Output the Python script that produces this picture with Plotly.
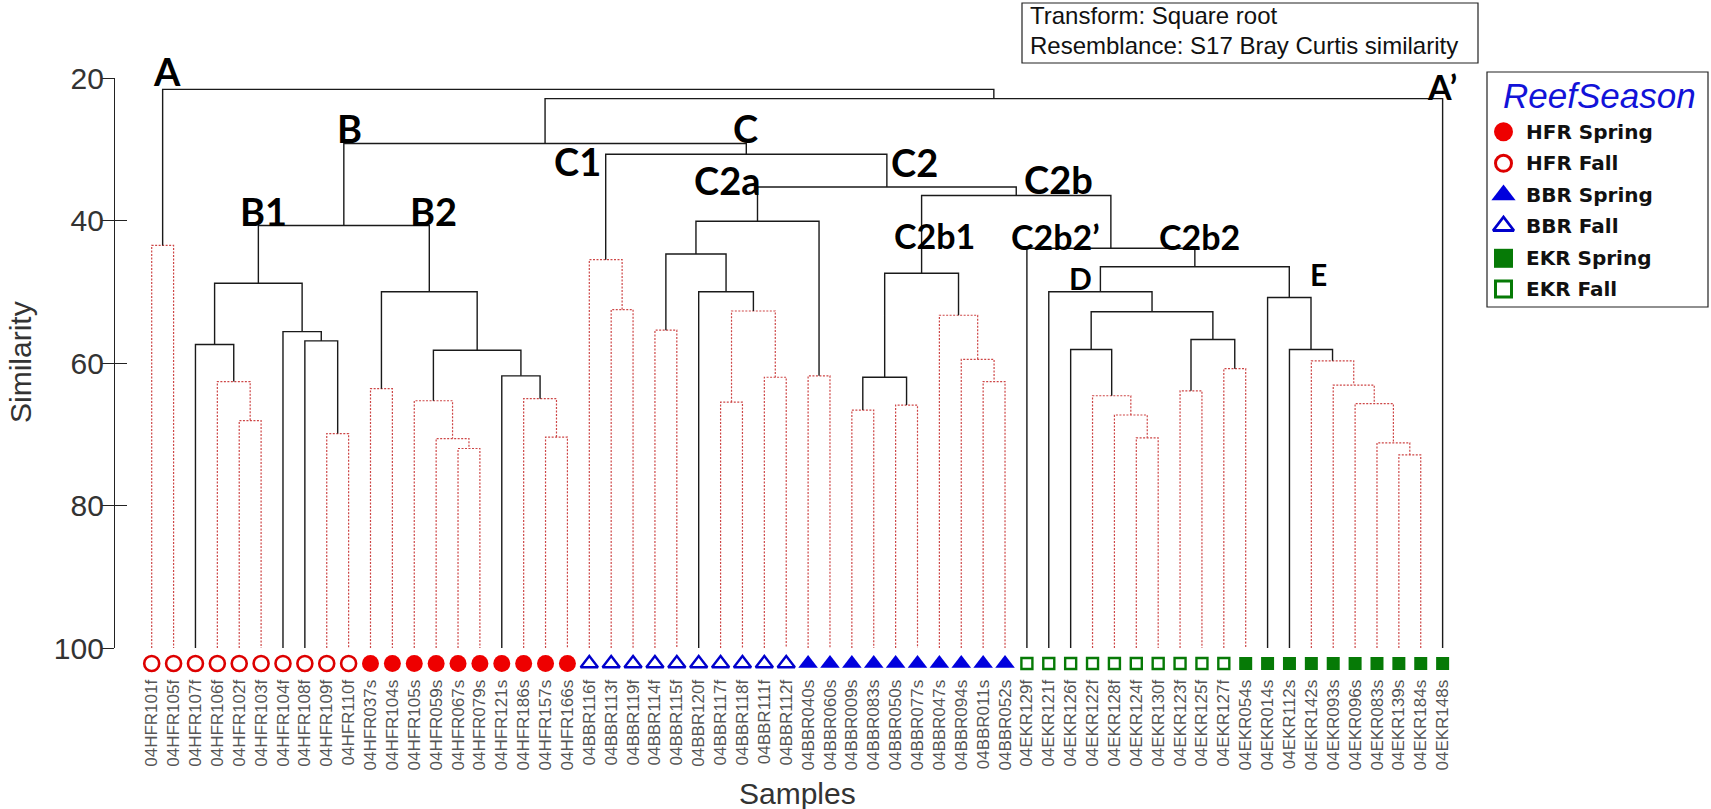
import plotly.graph_objects as go

# ---------------------------------------------------------------- data
samples = [
    "04HFR101f", "04HFR105f", "04HFR107f", "04HFR106f", "04HFR102f",
    "04HFR103f", "04HFR104f", "04HFR108f", "04HFR109f", "04HFR110f",
    "04HFR037s", "04HFR104s", "04HFR105s", "04HFR059s", "04HFR067s",
    "04HFR079s", "04HFR121s", "04HFR186s", "04HFR157s", "04HFR166s",
    "04BBR116f", "04BBR113f", "04BBR119f", "04BBR114f", "04BBR115f",
    "04BBR120f", "04BBR117f", "04BBR118f", "04BBR111f", "04BBR112f",
    "04BBR040s", "04BBR060s", "04BBR009s", "04BBR083s", "04BBR050s",
    "04BBR077s", "04BBR047s", "04BBR094s", "04BBR011s", "04BBR052s",
    "04EKR129f", "04EKR121f", "04EKR126f", "04EKR122f", "04EKR128f",
    "04EKR124f", "04EKR130f", "04EKR123f", "04EKR125f", "04EKR127f",
    "04EKR054s", "04EKR014s", "04EKR112s", "04EKR142s", "04EKR093s",
    "04EKR096s", "04EKR083s", "04EKR139s", "04EKR184s", "04EKR148s",
]

# Agglomeration steps (linkage style: ids >= 60 are earlier merges, 60 + step)
merge_left = [0, 4, 3, 2, 8, 7, 6, 63, 10, 14, 13, 12, 18, 17, 16, 71, 68, 67,
              21, 20, 23, 26, 28, 81, 25, 80, 30, 85, 32, 34, 88, 38, 37, 36,
              90, 45, 44, 43, 42, 47, 49, 99, 98, 41, 57, 56, 55, 54, 53, 52,
              51, 103, 40, 94, 87, 79, 77, 116, 60]
merge_right = [1, 5, 61, 62, 9, 64, 65, 66, 11, 15, 69, 70, 19, 72, 73, 74, 75,
               76, 22, 78, 24, 27, 29, 82, 83, 84, 31, 86, 33, 35, 89, 39, 91,
               92, 93, 46, 95, 96, 97, 48, 50, 100, 101, 102, 58, 104, 105, 106,
               107, 108, 109, 110, 111, 112, 113, 114, 115, 59, 117]
merge_similarity = [43.5, 68.1, 62.6, 57.4, 69.9, 56.9, 55.6, 48.8, 63.6, 72.0,
                    70.6, 65.3, 70.4, 65.0, 61.8, 58.2, 50.0, 40.7, 52.5, 45.5,
                    55.4, 65.5, 62.0, 52.7, 50.0, 44.7, 61.8, 40.1, 66.6, 65.9,
                    62.0, 62.6, 59.5, 53.3, 47.4, 70.5, 67.3, 64.6, 58.1, 63.9,
                    60.8, 56.7, 52.8, 50.0, 72.9, 71.2, 65.7, 63.1, 59.7, 58.1,
                    50.8, 46.5, 43.9, 36.5, 35.3, 30.7, 29.2, 22.9, 21.6]
# SIMPROF outcome: False = no significant internal structure (red dotted)
merge_significant = [False, False, False, True, False, True, True, True, False,
                     False, False, False, False, False, True, True, True, True,
                     False, False, False, False, False, False, True, True, False,
                     True, False, False, True, False, False, False, True, False,
                     False, False, True, False, False, True, True, True, False,
                     False, False, False, False, True, True, True, True, True,
                     True, True, True, True, True]

group_names = ["HFR Spring", "HFR Fall", "BBR Spring", "BBR Fall",
               "EKR Spring", "EKR Fall"]

cluster_labels = ["A", "A\u2019", "B", "B1", "B2", "C", "C1", "C2", "C2a",
                  "C2b", "C2b1", "C2b2\u2019", "C2b2", "D", "E"]
cluster_nodes = [60, 59, 77, 67, 76, 115, 79, 114, 87, 113, 94, 40, 111, 103, 110]

y_ticks = [20, 40, 60, 80, 100]

# ---------------------------------------------------------------- styling
W, H = 1711, 809
PLOT_L, PLOT_R, PLOT_T, PLOT_B = 115, 1470, 78, 648
LEAF_STEP = 21.88          # px between neighbouring leaves
FIRST_LEAF_PX = 151.7
SYMBOL_TOP, SYMBOL_BOT = 652, 675   # strip holding the leaf symbols

x_lo = -(FIRST_LEAF_PX - PLOT_L) / LEAF_STEP
x_hi = x_lo + (PLOT_R - PLOT_L) / LEAF_STEP

group_style = {
    "HFR Spring": dict(symbol="circle", color="#ee0000", size=17, lw=0),
    "HFR Fall": dict(symbol="circle-open", color="#dd0000", size=15, lw=2.6),
    "BBR Spring": dict(symbol="triangle-up", color="#0000dd", size=17, lw=0),
    "BBR Fall": dict(symbol="triangle-up-open", color="#0000cc", size=15, lw=2.4),
    "EKR Spring": dict(symbol="square", color="#067a06", size=13, lw=0),
    "EKR Fall": dict(symbol="square-open", color="#067a06", size=11, lw=2.4),
}

# label layout: pixel offsets from the top of the node's stem, and font size
label_dx = [4, -1, 6, 5, 4, -1, -28, 28, -31, 42, 13, 29, 5, -20, 29]
label_dy = [-18, -12, -16, -14, -14, -16, 7, 8, -7, -8, 40, -12, -12, 11, 7]
label_size = [38, 34, 38, 38, 38, 38, 38, 38, 38, 38, 34, 34, 34, 30, 30]

LINE_BLACK = "#1a1a1a"
LINE_RED = "rgb(205,70,70)"
TEXT_GREY = "#333333"


def px_x(p):
    return p / W


def px_y(p):
    return 1 - p / H


def group_of(name):
    season = "Spring" if name.endswith("s") else "Fall"
    return f"{name[2:5]} {season}"


# ---------------------------------------------------------------- tree geometry
n = len(samples)
node_x = {i: float(i) for i in range(n)}
node_h = {i: 100.0 for i in range(n)}
parent_h = {}
solid_x, solid_y, dot_x, dot_y = [], [], [], []
for k, (a, b, h, sig) in enumerate(zip(merge_left, merge_right,
                                        merge_similarity, merge_significant)):
    nid = n + k
    node_x[nid] = (node_x[a] + node_x[b]) / 2
    node_h[nid] = h
    parent_h[a] = h
    parent_h[b] = h
    xs = [node_x[a], node_x[a], node_x[b], node_x[b], None]
    ys = [node_h[a], h, h, node_h[b], None]
    if sig:
        solid_x += xs
        solid_y += ys
    else:
        dot_x += xs
        dot_y += ys

fig = go.Figure()
fig.add_trace(go.Scatter(x=dot_x, y=dot_y, mode="lines", cliponaxis=False,
                         line=dict(color=LINE_RED, width=1.2, dash="2px,1.5px"),
                         hoverinfo="skip", showlegend=False))
fig.add_trace(go.Scatter(x=solid_x, y=solid_y, mode="lines", cliponaxis=False,
                         line=dict(color=LINE_BLACK, width=1.4),
                         hoverinfo="skip", showlegend=False))

# leaf symbols, on a thin strip axis under the tree
for g in group_names:
    idx = [i for i, s in enumerate(samples) if group_of(s) == g]
    st = group_style[g]
    fig.add_trace(go.Scatter(
        x=idx, y=[0.5] * len(idx), yaxis="y4", mode="markers",
        marker=dict(symbol=st["symbol"], size=st["size"], color=st["color"],
                    line=dict(color=st["color"], width=st["lw"])),
        text=[samples[i] for i in idx], hoverinfo="text", showlegend=False))

# empty trace so the inward tick axis is drawn
fig.add_trace(go.Scatter(x=[], y=[], yaxis="y2", showlegend=False,
                         hoverinfo="skip"))

# ---------------------------------------------------------------- legend box
LEG_L, LEG_R, LEG_T, LEG_B = 1487, 1708, 72, 307
leg_rows = [131.7, 163.3, 195.0, 226.0, 258.3, 289.0]
leg_marker_x = 1503.5
leg_text_x = 1524
leg_style = {
    "HFR Spring": dict(size=19, lw=0),
    "HFR Fall": dict(size=16, lw=3),
    "BBR Spring": dict(size=21, lw=0),
    "BBR Fall": dict(size=18, lw=2.8),
    "EKR Spring": dict(size=19, lw=0),
    "EKR Fall": dict(size=16, lw=3),
}
for g, row in zip(group_names, leg_rows):
    st = group_style[g]
    ls = leg_style[g]
    fig.add_trace(go.Scatter(
        x=[leg_marker_x], y=[row], xaxis="x3", yaxis="y3", mode="markers",
        cliponaxis=False,
        marker=dict(symbol=st["symbol"], size=ls["size"], color=st["color"],
                    line=dict(color=st["color"], width=ls["lw"])),
        hoverinfo="skip", showlegend=False))

annotations = []
for g, row in zip(group_names, leg_rows):
    annotations.append(dict(
        x=leg_text_x, y=row, xref="x3", yref="y3", xanchor="left",
        yanchor="middle", showarrow=False, text=f"<b>{g}</b>",
        font=dict(family="DejaVu Sans", size=20, color="#111111")))
annotations.append(dict(
    x=px_x(1599), y=px_y(95), xref="paper", yref="paper", showarrow=False,
    xanchor="center", yanchor="middle", text="<i>ReefSeason</i>",
    font=dict(family="Liberation Sans", size=35, color="#1212d8")))

# cluster letters
for lab, node, dx, dy, fs in zip(cluster_labels, cluster_nodes, label_dx,
                                 label_dy, label_size):
    annotations.append(dict(
        x=node_x[node], y=parent_h[node], xref="x", yref="y",
        xshift=dx, yshift=-dy, showarrow=False, xanchor="center",
        yanchor="middle", text=f"<b>{lab}</b>",
        font=dict(family="Lato", size=fs, color="#000000")))

# transform / resemblance note
for txt, yy in [("Transform: Square root", 16),
                ("Resemblance: S17 Bray Curtis similarity", 46)]:
    annotations.append(dict(
        x=px_x(1028), y=px_y(yy), xref="paper", yref="paper",
        xanchor="left", yanchor="middle", showarrow=False, text=txt,
        font=dict(family="Liberation Sans", size=24, color="#111111")))

# axis titles
annotations.append(dict(
    x=px_x(20.5), y=px_y(362.5), xref="paper", yref="paper", showarrow=False,
    textangle=-90, xanchor="center", yanchor="middle", text="Similarity",
    font=dict(family="Liberation Sans", size=30, color=TEXT_GREY)))
annotations.append(dict(
    x=px_x(797), y=px_y(793), xref="paper", yref="paper", showarrow=False,
    xanchor="center", yanchor="middle", text="Samples",
    font=dict(family="Liberation Sans", size=30, color=TEXT_GREY)))

shapes = [
    dict(type="rect", xref="paper", yref="paper", x0=px_x(1022), x1=px_x(1478),
         y0=px_y(3), y1=px_y(63), line=dict(color="#222222", width=1.2)),
    dict(type="rect", xref="paper", yref="paper", x0=px_x(LEG_L), x1=px_x(LEG_R),
         y0=px_y(LEG_T), y1=px_y(LEG_B), line=dict(color="#222222", width=1.2)),
]

y_dom = [px_y(PLOT_B), px_y(PLOT_T)]
fig.update_layout(
    width=W, height=H, margin=dict(l=0, r=0, t=0, b=0, autoexpand=False),
    paper_bgcolor="white", plot_bgcolor="rgba(0,0,0,0)", showlegend=False,
    hovermode="closest",
    xaxis=dict(domain=[px_x(PLOT_L), px_x(PLOT_R)], range=[x_lo, x_hi],
               tickvals=list(range(n)), ticktext=samples, tickangle=-90,
               ticks="outside", ticklen=24, tickcolor="rgba(0,0,0,0)",
               showline=False, showgrid=False, zeroline=False, anchor="y",
               tickfont=dict(family="Liberation Sans", size=17, color="#555555")),
    yaxis=dict(domain=y_dom, range=[100, 20], tickvals=y_ticks,
               ticks="outside", ticklen=12, tickwidth=1.3, tickcolor="#222222",
               showline=True, linecolor="#222222", linewidth=1.3,
               showgrid=False, zeroline=False, anchor="x",
               ticklabelstandoff=-8,
               tickfont=dict(family="Liberation Sans", size=30, color=TEXT_GREY)),
    yaxis2=dict(overlaying="y", anchor="x", side="left", range=[100, 20],
                tickvals=y_ticks, ticks="inside", ticklen=12, tickwidth=1.3,
                tickcolor="#222222", showticklabels=False, showline=False,
                showgrid=False, zeroline=False),
    yaxis4=dict(domain=[px_y(SYMBOL_BOT), px_y(SYMBOL_TOP)], range=[0, 1],
                visible=False, anchor="x", fixedrange=True),
    xaxis3=dict(domain=[px_x(LEG_L), px_x(LEG_R)], range=[LEG_L, LEG_R],
                visible=False, anchor="y3", fixedrange=True),
    yaxis3=dict(domain=[px_y(LEG_B), px_y(LEG_T)], range=[LEG_B, LEG_T],
                visible=False, anchor="x3", fixedrange=True),
    annotations=annotations, shapes=shapes,
)

fig.write_html("out.html")
